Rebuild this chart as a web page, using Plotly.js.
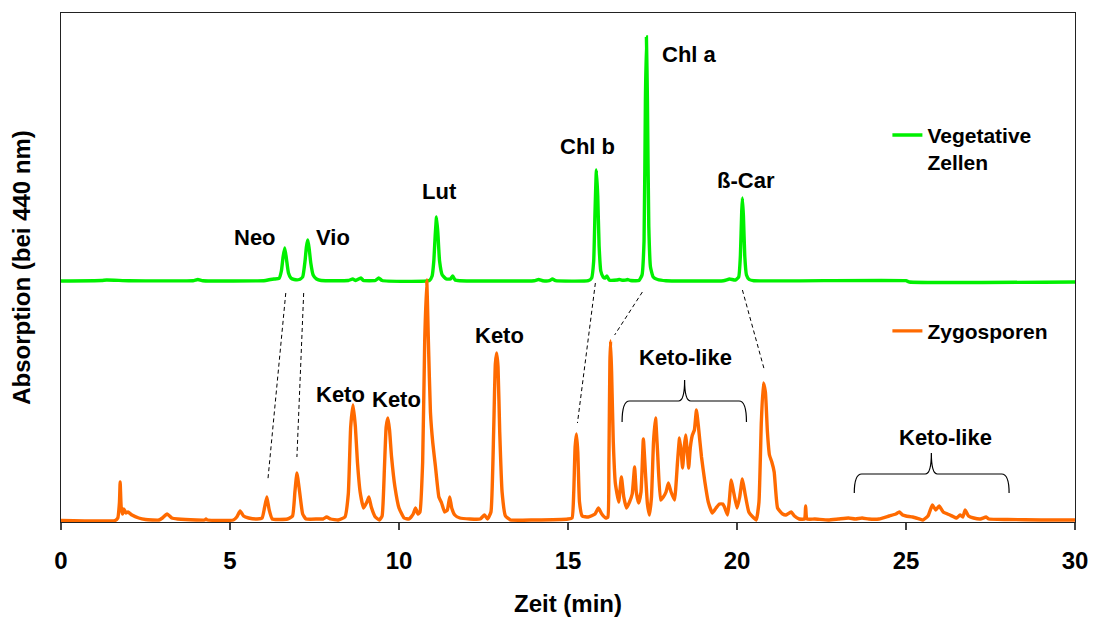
<!DOCTYPE html>
<html>
<head>
<meta charset="utf-8">
<script src="https://cdn.plot.ly/plotly-3.0.1.min.js"></script>
<style>
  html, body { margin: 0; padding: 0; background: #fff; }
  #chart { width: 1094px; height: 617px; }
</style>
</head>
<body>
<div id="chart"></div>
<script>
// HPLC chromatograms at 440 nm: zygospores vs. vegetative cells

// Zygosporen (retention time in min, absorbance in arbitrary units)
const zygoTime = [
  0, 1.6, 1.68, 1.73, 1.75, 1.78, 1.82, 1.86, 1.92, 1.98, 2.1, 2.3, 2.5, 2.9, 3.0, 3.14, 3.28, 3.45,
  4.0, 4.25, 4.29, 4.33, 5.1, 5.2, 5.3, 5.4, 5.55, 5.8, 5.95, 6.02, 6.09, 6.16, 6.25, 6.7, 6.85,
  6.92, 6.98, 7.06, 7.15, 7.25, 7.6, 7.75, 7.86, 7.98, 8.2, 8.4, 8.5, 8.57, 8.64, 8.71, 8.77, 8.85,
  8.95, 9.05, 9.11, 9.18, 9.3, 9.42, 9.5, 9.57, 9.62, 9.67, 9.72, 9.78, 9.88, 10.0, 10.15, 10.3,
  10.42, 10.49, 10.56, 10.62, 10.7, 10.76, 10.82, 10.87, 10.93, 11.0, 11.08, 11.18, 11.26, 11.35,
  11.43, 11.5, 11.56, 11.65, 11.8, 12.1, 12.4, 12.53, 12.62, 12.72, 12.8, 12.85, 12.89, 12.93,
  12.98, 13.05, 13.15, 13.3, 14.0, 15.0, 15.12, 15.17, 15.21, 15.25, 15.29, 15.34, 15.42, 15.6,
  15.8, 15.9, 16.0, 16.12, 16.18, 16.21, 16.24, 16.26, 16.29, 16.34, 16.4, 16.5, 16.58, 16.65,
  16.73, 16.82, 16.9, 16.97, 17.02, 17.09, 17.16, 17.23, 17.29, 17.35, 17.41, 17.47, 17.53, 17.59,
  17.65, 17.74, 17.82, 17.9, 17.97, 18.05, 18.15, 18.24, 18.3, 18.35, 18.39, 18.44, 18.48, 18.53,
  18.57, 18.62, 18.68, 18.74, 18.8, 18.86, 18.95, 19.05, 19.15, 19.27, 19.38, 19.48, 19.58, 19.63,
  19.72, 19.77, 19.83, 19.9, 20.0, 20.08, 20.16, 20.24, 20.35, 20.5, 20.57, 20.65, 20.72, 20.78,
  20.84, 20.9, 20.96, 21.03, 21.1, 21.2, 21.35, 21.45, 21.6, 21.7, 21.84, 22.0, 22.03, 22.07, 22.3,
  22.7, 23.0, 23.3, 23.5, 23.7, 23.9, 24.2, 24.5, 24.7, 24.8, 24.9, 25.0, 25.2, 25.4, 25.5, 25.65,
  25.78, 25.88, 25.98, 26.1, 26.3, 26.5, 26.6, 26.68, 26.75, 26.85, 27.0, 27.2, 27.37, 27.45, 28,
  29, 30
];
const zygoAbs = [
  1.5, 1.5, 4, 20, 40, 15, 8, 13, 9, 10, 7, 4, 2.5, 2, 4, 8, 4, 3,
  2, 2, 3, 2, 2, 5, 11, 6, 4, 3, 4, 14, 25, 12, 3, 3, 6,
  30, 49, 30, 8, 3, 3, 3, 5, 3, 2, 5, 28, 95, 117, 95, 60, 30,
  14, 20, 25, 15, 5, 2, 6, 55, 95, 104, 92, 65, 35, 14, 4, 3,
  8, 14, 8, 10, 60, 180, 242, 180, 110, 79, 55, 25, 19, 10,
  12, 25, 14, 7, 4, 3, 3, 7, 3, 10, 90, 158, 169, 155,
  90, 30, 6, 2, 2, 3, 4, 30, 75, 88, 70, 20, 6, 5,
  8, 14, 8, 4, 5, 60, 160, 181, 150, 80, 39, 20, 45, 25,
  14, 20, 28, 55, 30, 19, 30, 83, 50, 18, 7, 25, 80, 104,
  70, 22, 25, 30, 39, 30, 22, 60, 84, 70, 54, 75, 87, 70,
  54, 75, 87, 92, 112, 95, 65, 40, 20, 9, 14, 18, 18, 15,
  7, 20, 42, 30, 14, 25, 43, 28, 10, 4, 2, 20, 100, 139,
  130, 90, 67, 60, 50, 14, 8, 7, 10, 6, 3, 3, 16, 3, 3,
  2, 3, 4, 3, 4, 3, 3, 6, 8, 10, 7, 6, 5, 3, 2, 6,
  17, 12, 16, 10, 7, 4, 7, 5, 12, 6, 4, 3, 5, 3, 2.5,
  2, 2
];

// Vegetative Zellen (absorbance above the trace's own baseline)
const vegTime = [
  0, 1.2, 1.35, 2.0, 3.9, 4.05, 4.2, 6.0, 6.2, 6.3, 6.45, 6.52, 6.57, 6.62, 6.67, 6.73, 6.8, 6.9,
  7.05, 7.15, 7.22, 7.26, 7.3, 7.34, 7.39, 7.46, 7.56, 7.7, 8.5, 8.63, 8.72, 8.87, 8.95, 9.3, 9.4,
  9.5, 10.9, 10.98, 11.03, 11.07, 11.11, 11.15, 11.2, 11.28, 11.4, 11.52, 11.59, 11.66, 11.8,
  14.0, 14.13, 14.25, 14.45, 14.54, 14.63, 15.6, 15.7, 15.76, 15.8, 15.84, 15.88, 15.92, 15.97,
  16.04, 16.1, 16.15, 16.22, 16.45, 16.52, 16.6, 16.7, 16.76, 16.85, 17.1, 17.19, 17.25, 17.29,
  17.32, 17.35, 17.39, 17.44, 17.52, 17.65, 17.9, 19.6, 19.78, 19.95, 20.05, 20.1, 20.14, 20.16,
  20.19, 20.23, 20.28, 20.36, 20.5, 25.0, 25.1, 30
];
const vegAbs = [
  0, 0.5, 1, 0.3, 0.3, 1.5, 0.3, 0.3, 1.5, 2, 2.5, 10, 24, 33, 22, 8, 3, 1.5,
  1.5, 4, 20, 34, 41, 33, 18, 6, 2, 0.5, 0.5, 2, 0.5, 3, 0.5, 0.5, 3,
  0.5, 0.5, 5, 20, 45, 64, 48, 20, 6, 2, 2, 5, 1, 0.3,
  0.3, 1.5, 0.3, 0.3, 2, 0.3, 0.3, 3, 20, 70, 111, 85, 35, 10,
  4, 3, 5, 1, 1, 1.5, 0.8, 0.8, 1.5, 0.5, 0.5, 6, 40, 180,
  244, 180, 55, 14, 4, 1.5, 0.3, 0.3, 2, 1, 4, 25, 70, 83,
  65, 25, 6, 1.5, 0.3, 0.3, -1, -1
];
const vegOffset = 241;   // vertical stacking of the vegetative trace

const xTicks = [0, 5, 10, 15, 20, 25, 30];

// Peak names: [label, time, height]
const peakLabels = [
  ['Neo', 5.73, 285], ['Vio', 8.04, 285], ['Lut', 11.2, 331],
  ['Chl b', 15.58, 376], ['Chl a', 18.59, 468], ['ß-Car', 20.28, 342],
  ['Keto', 8.28, 128], ['Keto', 9.93, 123], ['Keto', 12.98, 187],
  ['Keto-like', 18.47, 165], ['Keto-like', 26.16, 85]
];

// Dashed links between corresponding peaks: [t top, h top, t bottom, h bottom]
const peakLinks = [
  [6.65, 229, 6.12, 42],
  [7.18, 229, 6.98, 65],
  [15.81, 239, 15.28, 99],
  [17.20, 230, 16.38, 187],
  [20.16, 232, 20.81, 152]
];

// Curly braces over the keto-like groups: [left, right, middle, tip, bar, top]
const braces = [
  [16.6, 20.28, 18.45, 100, 121, 142],
  [23.47, 28.05, 25.75, 29, 48, 69]
];

function bracePath(b) {
  const [l, r, m, tip, bar, top] = b;
  const dx = 0.22, dm = 0.18;
  return `M${l},${tip} Q${l},${bar} ${l + dx},${bar} L${m - dm},${bar} ` +
         `Q${m},${bar} ${m},${top} Q${m},${bar} ${m + dm},${bar} ` +
         `L${r - dx},${bar} Q${r},${bar} ${r},${tip}`;
}

const traces = [
  {
    x: vegTime, y: vegAbs.map(v => v + vegOffset),
    type: 'scatter', mode: 'lines', name: 'Vegetative<br>Zellen',
    line: { color: '#00f000', width: 3.4, shape: 'spline', smoothing: 0.4 }, legend: 'legend'
  },
  {
    x: zygoTime, y: zygoAbs,
    type: 'scatter', mode: 'lines', name: 'Zygosporen',
    line: { color: '#ff6a00', width: 3.4, shape: 'spline', smoothing: 0.4 }, legend: 'legend2'
  }
];

const shapes = peakLinks.map(p => ({
  type: 'line', xref: 'x', yref: 'y',
  x0: p[0], y0: p[1], x1: p[2], y1: p[3],
  line: { color: '#000', width: 1, dash: '4px,3px' }
})).concat(braces.map(b => ({
  type: 'path', xref: 'x', yref: 'y', path: bracePath(b),
  line: { color: '#000', width: 1.2 }
})));

const annotations = peakLabels.map(p => ({
  text: p[0], x: p[1], y: p[2], xref: 'x', yref: 'y',
  showarrow: false, xanchor: 'center', yanchor: 'middle',
  font: { size: 22, color: '#000', weight: 'bold' }
}));

const legendStyle = {
  xanchor: 'left', yanchor: 'top', valign: 'top',
  bgcolor: 'rgba(0,0,0,0)', borderwidth: 0,
  font: { size: 21, color: '#000', weight: 'bold' }, itemwidth: 30
};

const layout = {
  width: 1094, height: 617,
  margin: { l: 61, r: 19, t: 13, b: 95 },
  paper_bgcolor: '#fff', plot_bgcolor: '#fff',
  font: { family: 'Liberation Sans, Arial, sans-serif', color: '#000', weight: 'bold' },
  showlegend: true,
  legend: Object.assign({ x: 0.815, y: 0.80 }, legendStyle),
  legend2: Object.assign({ x: 0.815, y: 0.415 }, legendStyle),
  xaxis: {
    range: [0, 30], tickvals: xTicks, ticktext: xTicks.map(String),
    ticks: 'outside', ticklen: 7, tickwidth: 1.3, tickcolor: '#444',
    ticklabelstandoff: 10,
    showline: true, linecolor: '#222', linewidth: 1.4, mirror: true,
    showgrid: false, zeroline: false,
    tickfont: { size: 24, weight: 'bold' },
    title: { text: 'Zeit (min)', font: { size: 24, weight: 'bold' }, standoff: 22 }
  },
  yaxis: {
    range: [0, 509], showticklabels: false, ticks: '',
    showline: true, linecolor: '#222', linewidth: 1.4, mirror: true,
    showgrid: false, zeroline: false,
    title: { text: 'Absorption (bei 440 nm)', font: { size: 24, weight: 'bold' }, standoff: 22 }
  },
  shapes: shapes,
  annotations: annotations
};

Plotly.newPlot('chart', traces, layout, { displayModeBar: false, staticPlot: true });
</script>
</body>
</html>
